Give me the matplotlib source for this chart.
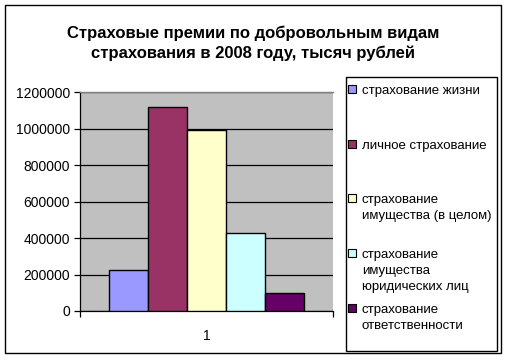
import matplotlib.pyplot as plt
from matplotlib.patches import Rectangle

plt.rcParams['font.family'] = ['Liberation Sans', 'DejaVu Sans']

# данные
категории = ['1']
серии = ['страхование жизни',
         'личное страхование',
         'страхование\nимущества (в целом)',
         'страхование\nимущества\nюридических лиц',
         'страхование\nответственности']
значения = [223000, 1116000, 990000, 426000, 99000]
цвета = ['#9999FF', '#993366', '#FFFFCC', '#CCFFFF', '#660066']
деления = [0, 200000, 400000, 600000, 800000, 1000000, 1200000]

fig = plt.figure(figsize=(5.08, 3.6), dpi=100)
ax = fig.add_axes([79.7 / 508, 1 - 311 / 360, 253.3 / 508, 219 / 360])

ширина = 0.154
for i, (v, c, s) in enumerate(zip(значения, цвета, серии)):
    ax.bar(0.5 + (i - 2) * ширина, v, width=ширина, color=c,
           edgecolor='black', linewidth=1.0, label=s, zorder=3)

ax.set_facecolor('#C0C0C0')
ax.set_xlim(0, 1)
ax.set_ylim(0, 1200000)
ax.set_yticks(деления)
ax.set_yticklabels([str(d) for d in деления], fontsize=10)
ax.yaxis.grid(True, color='black', linewidth=0.9, zorder=1)
ax.set_axisbelow(True)
ax.set_xticks([0, 1], minor=False)
ax.set_xticklabels(['', ''])
ax.set_xticks([0.5], minor=True)
ax.set_xticklabels(категории, minor=True, fontsize=10)
ax.tick_params(axis='x', which='minor', length=0, pad=13)
ax.tick_params(axis='both', which='major', length=4, width=0.9, direction='out')
ax.tick_params(axis='y', pad=3)
for s in ['left', 'bottom']:
    ax.spines[s].set_color('black')
    ax.spines[s].set_linewidth(0.9)
ax.spines['top'].set_color('#808080')
ax.spines['top'].set_linewidth(1.0)
ax.spines['right'].set_visible(False)

fig.text(0.5 * (5 + 501) / 508, 1 - 43 / 360,
         'Страховые премии по добровольным видам\nстрахования в 2008 году, тысяч рублей',
         ha='center', va='center', fontsize=12, fontweight='bold', linespacing=1.35)

# внешняя рамка и рамка легенды
fig.patches.append(Rectangle((5 / 508, 1 - 353 / 360), 496 / 508, 348 / 360,
                             transform=fig.transFigure, fill=False,
                             edgecolor='black', linewidth=1.0))
fig.patches.append(Rectangle((345.7 / 508, 1 - 350.7 / 360), 151 / 508, 273.7 / 360,
                             transform=fig.transFigure, fill=False,
                             edgecolor='black', linewidth=1.0))

# легенда
центры_строк = [89, 144, 198, 253, 308]
for y, c, s in zip(центры_строк, цвета, серии):
    fig.patches.append(Rectangle((348 / 508, 1 - (y + 4) / 360), 8 / 508, 8 / 360,
                                 transform=fig.transFigure, facecolor=c,
                                 edgecolor='black', linewidth=0.8))
    fig.text(362 / 508, 1 - (y - 4) / 360, s, ha='left', va='top',
             fontsize=9.5, linespacing=1.45)

fig.savefig('out.png', dpi=100)
